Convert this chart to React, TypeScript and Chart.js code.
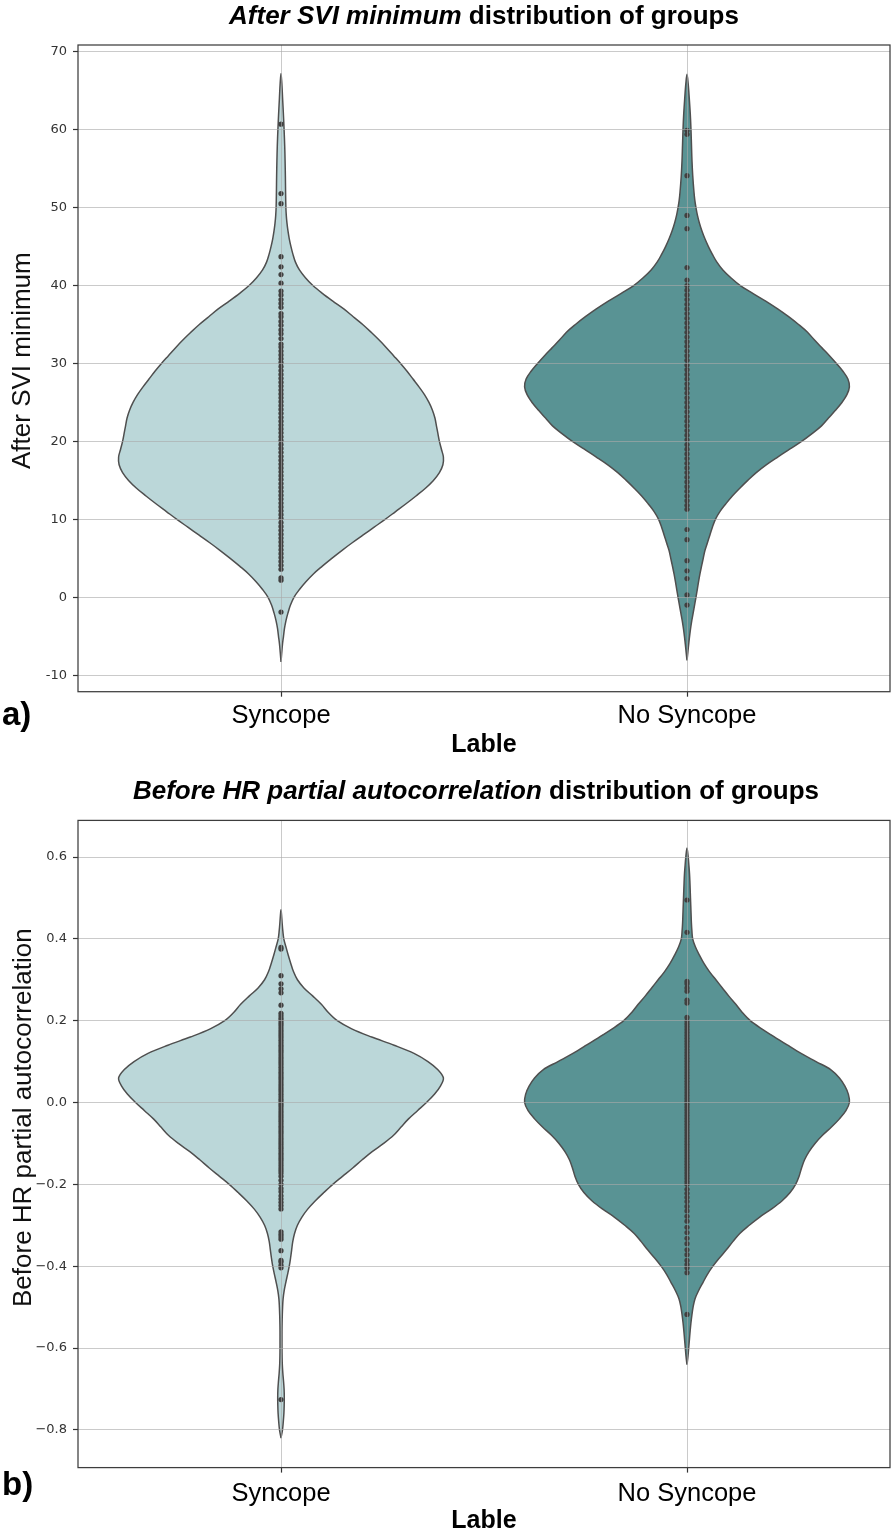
import React, { useEffect, useRef } from 'react';
import { Chart, registerables } from 'chart.js';

Chart.register(...registerables);

// ---------- data ----------
const CATEGORIES = ['Syncope', 'No Syncope'];

// Panel a) After SVI minimum — violin outline: levels and (relative) density
const A_SYN_LEVELS = [-8.3, -7, -6, -5, -4, -3, -2, -1, 0, 1, 2, 3, 4, 5, 6, 7, 8, 9, 10, 11, 12, 13, 14, 15, 16, 17, 18, 19, 20, 21, 22, 23, 24, 25, 26, 27, 28, 29, 30, 31, 32, 33, 34, 35, 36, 37, 38, 39, 40, 41, 42, 43, 44, 45, 46, 47, 48, 49, 50, 52, 54, 56, 58, 60, 62, 64, 66, 67.2];
const A_SYN_DENS = [0, 0.8, 1.5, 2.5, 3.5, 5, 7, 9.5, 13, 18.5, 25, 32.5, 41.5, 51, 61, 71.5, 82.5, 93.5, 104.5, 115, 125.5, 135.5, 145, 153, 159, 162.5, 163, 161, 159, 157.5, 156, 154.5, 152, 148.5, 144, 138.5, 132.5, 126.5, 120, 113, 106, 98.5, 90.5, 82, 72.5, 63, 52, 41.5, 32, 24.5, 18.5, 14.5, 12, 10, 8.3, 7, 6, 5.3, 4.9, 4.6, 4.4, 4.1, 3.7, 3.1, 2.4, 1.6, 0.8, 0];
const A_NS_LEVELS = [-8.1, -7, -6, -5, -4, -3, -2, -1, 0, 1, 2, 3, 4, 5, 6, 7, 8, 9, 10, 11, 12, 13, 14, 15, 16, 17, 18, 19, 20, 21, 22, 23, 24, 25, 26, 27, 28, 29, 30, 31, 32, 33, 34, 35, 36, 37, 38, 39, 40, 41, 42, 43, 44, 45, 46, 47, 48, 49, 50, 51, 52, 54, 56, 58, 60, 62, 64, 66, 67.1];
const A_NS_DENS = [0, 0.9, 1.7, 2.6, 3.6, 4.8, 6.2, 7.6, 9, 10.3, 11.6, 13, 14.6, 16.3, 18, 20.5, 23, 25.5, 28.5, 33, 39, 45.5, 53, 61, 69.5, 79.5, 91, 103, 115, 125.5, 135, 142, 149, 155.5, 160.5, 163, 161.5, 156.5, 150, 143, 135.5, 128, 121, 112, 102, 91, 79, 66, 53.5, 44, 36, 30, 25.5, 21.5, 18, 15, 12.5, 10.5, 9, 7.8, 7, 5.8, 5, 4.5, 4, 3.3, 2.3, 1.1, 0];

// Panel a) observations (inner points)
const A_SYN_POINTS = [-1.9, 2.2, 2.5, 3.6, 4.1, 4.6, 5.1, 5.6, 6.1, 6.6, 7.1, 7.6, 8.1, 8.6, 9.1, 9.6, 10.1, 10.6, 11.1, 11.6, 12.1, 12.6, 13.1, 13.6, 14.1, 14.6, 15.1, 15.6, 16.1, 16.6, 17.1, 17.6, 18.1, 18.6, 19.1, 19.6, 20.1, 20.6, 21.1, 21.6, 22.1, 22.6, 23.1, 23.6, 24.1, 24.6, 25.1, 25.6, 26.1, 26.6, 27.1, 27.6, 28.1, 28.6, 29.1, 29.6, 30.1, 30.6, 31.1, 31.6, 32.1, 32.5, 33.2, 33.8, 34.3, 34.9, 35.4, 36.0, 36.4, 37.2, 37.7, 38.2, 38.8, 39.3, 40.3, 41.4, 42.4, 43.7, 50.5, 51.8, 60.7];
const A_NS_POINTS = [-1.0, 0.3, 2.4, 3.4, 4.7, 7.4, 8.7, 11.3, 11.8, 12.4, 13.0, 13.6, 14.2, 14.8, 15.4, 16.0, 16.6, 17.2, 17.8, 18.4, 19.0, 19.6, 20.2, 20.8, 21.4, 22.0, 22.6, 23.2, 23.8, 24.4, 25.0, 25.6, 26.2, 26.8, 27.4, 28.0, 28.6, 29.2, 29.8, 30.4, 31.0, 31.6, 32.2, 32.8, 33.4, 34.0, 34.6, 35.2, 35.8, 36.4, 37.0, 37.6, 38.2, 38.8, 39.4, 40.0, 40.7, 42.3, 47.3, 49.0, 54.1, 59.4, 59.9];

// Panel b) Before HR partial autocorrelation — violin outline
const B_SYN_LEVELS = [-0.82, -0.8, -0.78, -0.76, -0.74, -0.72, -0.7, -0.68, -0.66, -0.64, -0.62, -0.6, -0.58, -0.56, -0.54, -0.52, -0.5, -0.48, -0.46, -0.44, -0.42, -0.4, -0.38, -0.36, -0.34, -0.32, -0.3, -0.28, -0.26, -0.24, -0.22, -0.2, -0.18, -0.16, -0.14, -0.12, -0.1, -0.08, -0.06, -0.04, -0.02, 0, 0.02, 0.04, 0.06, 0.08, 0.1, 0.12, 0.14, 0.16, 0.18, 0.2, 0.22, 0.24, 0.26, 0.28, 0.3, 0.32, 0.34, 0.36, 0.38, 0.4, 0.42, 0.44, 0.46, 0.471];
const B_SYN_DENS = [0, 1.5, 2.3, 2.9, 3.2, 3.3, 3.1, 2.5, 1.8, 1.3, 1.1, 1.0, 1.0, 1.0, 1.1, 1.3, 1.6, 2.1, 3.2, 4.8, 6.6, 8.3, 9.6, 10.7, 11.8, 13.6, 16.5, 21, 27, 34.5, 43, 52, 62, 72, 81.5, 91.5, 103, 113, 120.5, 128, 137, 146, 154, 160, 163, 157.5, 147.5, 133.5, 113.5, 91, 71, 56.5, 47.5, 40.5, 32, 23, 16.5, 12.5, 9.8, 7.3, 5, 2.8, 1.8, 1.1, 0.5, 0];
const B_NS_LEVELS = [-0.641, -0.62, -0.6, -0.58, -0.56, -0.54, -0.52, -0.5, -0.48, -0.46, -0.44, -0.42, -0.4, -0.38, -0.36, -0.34, -0.32, -0.3, -0.28, -0.26, -0.24, -0.22, -0.2, -0.18, -0.16, -0.14, -0.12, -0.1, -0.08, -0.06, -0.04, -0.02, 0, 0.02, 0.04, 0.06, 0.08, 0.1, 0.12, 0.14, 0.16, 0.18, 0.2, 0.22, 0.24, 0.26, 0.28, 0.3, 0.32, 0.34, 0.36, 0.38, 0.4, 0.42, 0.44, 0.46, 0.48, 0.5, 0.52, 0.54, 0.56, 0.58, 0.6, 0.622];
const B_NS_DENS = [0, 1.0, 1.7, 2.4, 3.1, 3.9, 4.9, 6.1, 8.0, 11.6, 16, 20.5, 26, 32.5, 39.5, 46, 53, 62.5, 73, 85, 95.5, 103.5, 109, 112.5, 115, 118, 122.5, 128.5, 136, 145, 153, 159.5, 163, 162, 158.5, 153, 144.5, 129.5, 114.5, 101, 88, 75, 63.5, 55.5, 49, 42, 35.5, 29, 22.5, 17, 12.5, 8.5, 5.7, 4.9, 4.4, 4.1, 3.8, 3.5, 3.2, 2.9, 2.5, 1.9, 1.2, 0];

// Panel b) observations
const B_SYN_POINTS = [-0.726, -0.404, -0.398, -0.39, -0.386, -0.362, -0.334, -0.328, -0.322, -0.316, -0.26, -0.252, -0.244, -0.236, -0.228, -0.218, -0.21, -0.2, -0.19, -0.18, -0.172, -0.166, -0.16, -0.154, -0.148, -0.142, -0.136, -0.13, -0.124, -0.118, -0.112, -0.106, -0.1, -0.094, -0.088, -0.082, -0.076, -0.07, -0.064, -0.058, -0.052, -0.046, -0.04, -0.034, -0.028, -0.022, -0.016, -0.01, -0.004, 0.002, 0.008, 0.014, 0.02, 0.026, 0.032, 0.038, 0.044, 0.05, 0.056, 0.062, 0.068, 0.074, 0.08, 0.086, 0.092, 0.098, 0.104, 0.11, 0.116, 0.122, 0.128, 0.134, 0.14, 0.146, 0.152, 0.158, 0.164, 0.17, 0.176, 0.182, 0.188, 0.194, 0.2, 0.206, 0.212, 0.218, 0.238, 0.268, 0.278, 0.29, 0.31, 0.375, 0.379];
const B_NS_POINTS = [-0.518, -0.416, -0.404, -0.396, -0.386, -0.372, -0.36, -0.345, -0.332, -0.318, -0.305, -0.29, -0.278, -0.265, -0.254, -0.242, -0.232, -0.222, -0.212, -0.2, -0.193, -0.186, -0.179, -0.172, -0.165, -0.158, -0.151, -0.144, -0.137, -0.13, -0.123, -0.116, -0.109, -0.102, -0.095, -0.088, -0.081, -0.074, -0.067, -0.06, -0.053, -0.046, -0.039, -0.032, -0.025, -0.018, -0.011, -0.004, 0.003, 0.01, 0.017, 0.024, 0.031, 0.038, 0.045, 0.052, 0.059, 0.066, 0.073, 0.08, 0.087, 0.094, 0.101, 0.108, 0.115, 0.122, 0.129, 0.136, 0.143, 0.15, 0.157, 0.164, 0.171, 0.178, 0.185, 0.192, 0.199, 0.208, 0.243, 0.25, 0.272, 0.28, 0.29, 0.296, 0.416, 0.495];

// Tick labels
const A_Y_TICKS = [-10, 0, 10, 20, 30, 40, 50, 60, 70];
const A_Y_TICK_LABELS = ['-10', '0', '10', '20', '30', '40', '50', '60', '70'];
const B_Y_TICKS = [-0.8, -0.6, -0.4, -0.2, 0, 0.2, 0.4, 0.6];
const B_Y_TICK_LABELS = ['\u22120.8', '\u22120.6', '\u22120.4', '\u22120.2', '0.0', '0.2', '0.4', '0.6'];

// ---------- styles ----------
const FILL_COLORS = ['#bbd7d9', '#599394'];
const OUTLINE_COLOR = '#4f4f4f';
const POINT_COLOR = '#404040';
const GRID_COLOR = 'rgba(170,170,170,0.62)';
const FRAME_COLOR = '#3d3d3d';
const VIOLIN_HALF_WIDTH = 0.4;
const SANS = '"Liberation Sans", Arial, Helvetica, sans-serif';

function violinOutline(center: number, levels: number[], dens: number[]) {
  const maxD = Math.max(...dens);
  const right = levels.map((y, i) => ({ x: center + (dens[i] / maxD) * VIOLIN_HALF_WIDTH, y }));
  const left = levels.map((y, i) => ({ x: center - (dens[i] / maxD) * VIOLIN_HALF_WIDTH, y })).reverse();
  return [...right, ...left.slice(1)];
}

const decoPlugin = {
  id: 'deco',
  afterDraw(chart: any, _args: any, opts: any) {
    const ctx = chart.ctx as CanvasRenderingContext2D;
    const a = chart.chartArea;
    ctx.save();
    // frame (all four spines)
    ctx.strokeStyle = FRAME_COLOR;
    ctx.lineWidth = 1.25;
    ctx.strokeRect(a.left, a.top, a.right - a.left, a.bottom - a.top);

    // title: italic bold part + bold part
    const t = opts.title;
    ctx.fillStyle = '#000';
    ctx.textBaseline = 'alphabetic';
    ctx.textAlign = 'left';
    const fItal = `italic bold ${t.size}px ${SANS}`;
    const fBold = `bold ${t.size}px ${SANS}`;
    ctx.font = fItal;
    const w1 = ctx.measureText(t.italic).width;
    ctx.font = fBold;
    const w2 = ctx.measureText(t.rest).width;
    const x0 = t.centerX - (w1 + w2) / 2;
    ctx.font = fItal;
    ctx.fillText(t.italic, x0, t.baseline);
    ctx.font = fBold;
    ctx.fillText(t.rest, x0 + w1, t.baseline);

    // y label (rotated)
    const yl = opts.yLabel;
    ctx.save();
    ctx.translate(yl.baselineX, yl.startY);
    ctx.rotate(-Math.PI / 2);
    ctx.font = `${yl.size}px ${SANS}`;
    ctx.fillStyle = '#111';
    ctx.textAlign = 'left';
    ctx.textBaseline = 'alphabetic';
    ctx.fillText(yl.text, 0, 0);
    ctx.restore();

    // panel letter
    const L = opts.letter;
    ctx.font = `bold ${L.size}px ${SANS}`;
    ctx.fillStyle = '#000';
    ctx.textAlign = 'left';
    ctx.textBaseline = 'alphabetic';
    ctx.fillText(L.text, L.x, L.baseline);
    ctx.restore();
  },
};

type Spec = {
  levels: number[][];
  dens: number[][];
  points: number[][];
  yMin: number;
  yMax: number;
  yTicks: number[];
  yTickLabels: string[];
  areaTop: number;
  areaBottom: number;
  xAxisHeight: number;
  xTickPad: number;
  canvasHeight: number;
  deco: any;
};

function buildConfig(spec: Spec): any {
  const datasets: any[] = [];
  CATEGORIES.forEach((_, i) => {
    datasets.push({
      type: 'scatter',
      data: spec.points[i].map((y) => ({ x: i, y })),
      pointRadius: 2.6,
      pointBackgroundColor: POINT_COLOR,
      pointBorderWidth: 0,
      pointHoverRadius: 0,
      order: 0,
    });
  });
  CATEGORIES.forEach((_, i) => {
    datasets.push({
      type: 'scatter',
      showLine: true,
      data: violinOutline(i, spec.levels[i], spec.dens[i]),
      borderColor: OUTLINE_COLOR,
      borderWidth: 1.5,
      backgroundColor: FILL_COLORS[i],
      fill: 'shape',
      tension: 0.35,
      pointRadius: 0,
      pointHoverRadius: 0,
      order: 1,
    });
  });

  return {
    type: 'scatter',
    data: { datasets },
    plugins: [decoPlugin],
    options: {
      responsive: false,
      animation: false,
      events: [],
      layout: {
        padding: {
          top: spec.areaTop,
          left: 0,
          right: 4,
          bottom: spec.canvasHeight - spec.areaBottom - spec.xAxisHeight,
        },
      },
      plugins: {
        legend: { display: false },
        tooltip: { enabled: false },
        deco: spec.deco,
      },
      scales: {
        x: {
          type: 'linear',
          position: 'bottom',
          min: -0.5,
          max: 1.5,
          afterBuildTicks: (scale: any) => {
            scale.ticks = CATEGORIES.map((_, i) => ({ value: i }));
          },
          afterFit: (scale: any) => {
            scale.height = spec.xAxisHeight;
          },
          ticks: {
            callback: (v: number) => CATEGORIES[Math.round(v)],
            font: { family: SANS, size: 25.5 },
            color: '#000',
            padding: spec.xTickPad,
            maxRotation: 0,
            autoSkip: false,
          },
          grid: {
            color: GRID_COLOR,
            lineWidth: 1,
            tickColor: '#333',
            tickLength: 5,
            tickWidth: 1.2,
            z: 1,
          },
          border: { display: false },
          title: {
            display: true,
            text: 'Lable',
            font: { family: SANS, size: 25, weight: 'bold', lineHeight: 1 },
            color: '#000',
            padding: { top: 0, bottom: 0 },
          },
        },
        y: {
          type: 'linear',
          position: 'left',
          min: spec.yMin,
          max: spec.yMax,
          afterBuildTicks: (scale: any) => {
            scale.ticks = spec.yTicks.map((v) => ({ value: v }));
          },
          afterFit: (scale: any) => {
            scale.width = 78;
          },
          ticks: {
            callback: (_v: number, idx: number) => spec.yTickLabels[idx],
            font: { family: '"DejaVu Sans", sans-serif', size: 13 },
            color: '#333',
            padding: 6,
            autoSkip: false,
          },
          grid: {
            color: GRID_COLOR,
            lineWidth: 1,
            tickColor: '#333',
            tickLength: 5,
            tickWidth: 1.2,
            z: 1,
          },
          border: { display: false },
        },
      },
    },
  };
}

const SPEC_A: Spec = {
  levels: [A_SYN_LEVELS, A_NS_LEVELS],
  dens: [A_SYN_DENS, A_NS_DENS],
  points: [A_SYN_POINTS, A_NS_POINTS],
  yMin: -12.11,
  yMax: 70.86,
  yTicks: A_Y_TICKS,
  yTickLabels: A_Y_TICK_LABELS,
  areaTop: 45,
  areaBottom: 691.7,
  xAxisHeight: 65.8,
  xTickPad: 3.5,
  canvasHeight: 770,
  deco: {
    title: { italic: 'After SVI minimum', rest: ' distribution of groups', size: 26, centerX: 484, baseline: 23.5 },
    yLabel: { text: 'After SVI minimum', size: 26, baselineX: 30, startY: 469 },
    letter: { text: 'a)', size: 33, x: 2, baseline: 725 },
  },
};

const SPEC_B: Spec = {
  levels: [B_SYN_LEVELS, B_NS_LEVELS],
  dens: [B_SYN_DENS, B_NS_DENS],
  points: [B_SYN_POINTS, B_NS_POINTS],
  yMin: -0.8923,
  yMax: 0.6895,
  yTicks: B_Y_TICKS,
  yTickLabels: B_Y_TICK_LABELS,
  areaTop: 50.4,
  areaBottom: 697.6,
  xAxisHeight: 65.9,
  xTickPad: 6,
  canvasHeight: 765,
  deco: {
    title: { italic: 'Before HR partial autocorrelation', rest: ' distribution of groups', size: 26, centerX: 476, baseline: 29 },
    yLabel: { text: 'Before HR partial autocorrelation', size: 26, baselineX: 31, startY: 537 },
    letter: { text: 'b)', size: 33, x: 2, baseline: 725 },
  },
};

function Panel({ spec, top }: { spec: Spec; top: number }) {
  const ref = useRef<HTMLCanvasElement>(null);
  useEffect(() => {
    const chart = new Chart(ref.current as HTMLCanvasElement, buildConfig(spec));
    return () => chart.destroy();
  }, [spec]);
  return (
    <canvas
      ref={ref}
      width={894}
      height={spec.canvasHeight}
      style={{ position: 'absolute', left: 0, top, width: 894, height: spec.canvasHeight, display: 'block' }}
    />
  );
}

export default function App() {
  return (
    <div style={{ position: 'absolute', left: 0, top: 0, width: 894, height: 1535, background: '#fff', overflow: 'hidden' }}>
      <Panel spec={SPEC_A} top={0} />
      <Panel spec={SPEC_B} top={770} />
    </div>
  );
}
